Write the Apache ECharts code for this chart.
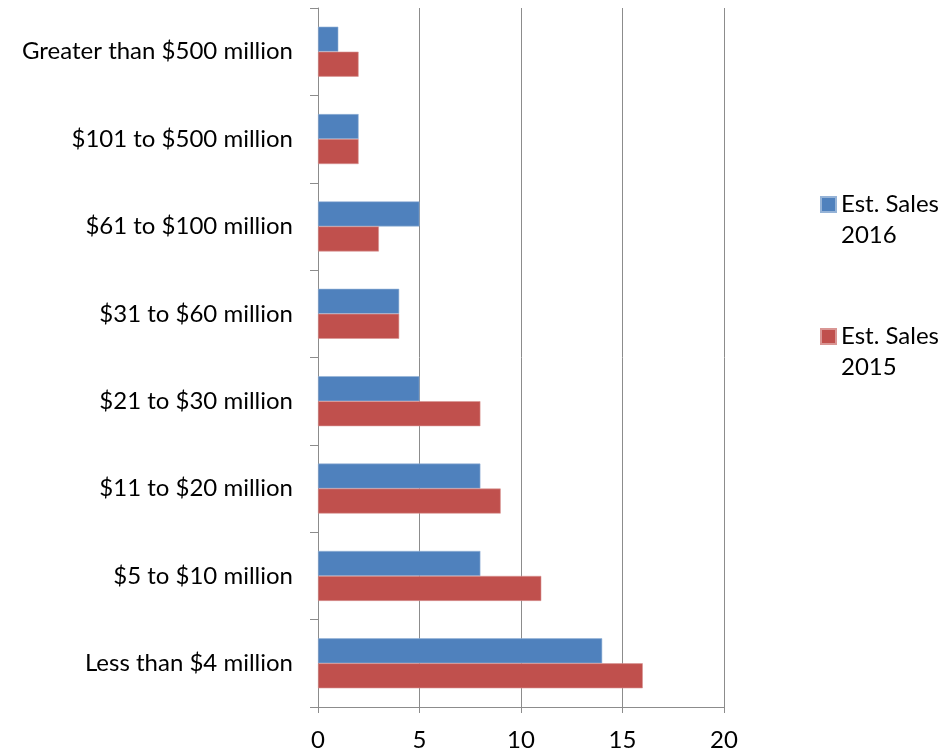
<!DOCTYPE html>
<html>
<head>
<meta charset="utf-8">
<script src="https://cdn.jsdelivr.net/npm/echarts@6/dist/echarts.min.js"></script>
<style>
  html, body { margin: 0; padding: 0; background: #fff; }
  #chart { width: 947px; height: 753px; }
</style>
</head>
<body>
<div id="chart"></div>
<script>
// Revenue bands, listed bottom to top
const categories = [
  'Less than $4 million',
  '$5 to $10 million',
  '$11 to $20 million',
  '$21 to $30 million',
  '$31 to $60 million',
  '$61 to $100 million',
  '$101 to $500 million',
  'Greater than $500 million'
];
const seriesNames = ['Est. Sales 2016', 'Est. Sales 2015'];
const sales2016 = [14, 8, 8, 5, 4, 5, 2, 1];
const sales2015 = [16, 11, 9, 8, 4, 3, 2, 2];
const xTicks = { min: 0, max: 20, interval: 5 };

const FONT = 'Lato, "Open Sans", sans-serif';
const FONT_SIZE = 24;
const BLUE = '#4F81BD';
const RED = '#C0504D';
const GRID_GRAY = '#8c8c8c';

const chart = echarts.init(document.getElementById('chart'), null, { renderer: 'canvas' });

function legendFor(name, top) {
  return {
    data: [name],
    left: 820,
    top: top,
    padding: 0,
    orient: 'vertical',
    icon: 'rect',
    itemWidth: 15,
    itemHeight: 15,
    selectedMode: false,
    // first line left blank so the label's first line sits level with the swatch
    formatter: function (n) { return '\n' + n.replace(' 2', '\n2'); },
    textStyle: { fontFamily: FONT, fontSize: FONT_SIZE, lineHeight: 31, color: '#000' }
  };
}

chart.setOption({
  animation: false,
  backgroundColor: '#fff',
  textStyle: { fontFamily: FONT },
  legend: [legendFor(seriesNames[0], 158), legendFor(seriesNames[1], 290)],
  grid: { left: 318, right: 223, top: 8, bottom: 46, containLabel: false },
  xAxis: {
    type: 'value',
    min: xTicks.min,
    max: xTicks.max,
    interval: xTicks.interval,
    axisLine: { show: true, lineStyle: { color: GRID_GRAY, width: 1 } },
    axisTick: { show: true, length: 6, lineStyle: { color: GRID_GRAY } },
    splitLine: { show: true, lineStyle: { color: GRID_GRAY, width: 1 } },
    axisLabel: { fontFamily: FONT, fontSize: FONT_SIZE, color: '#000', margin: 21 }
  },
  yAxis: {
    type: 'category',
    data: categories,
    axisLine: { show: true, lineStyle: { color: GRID_GRAY, width: 1 } },
    axisTick: { show: true, length: 8, lineStyle: { color: GRID_GRAY } },
    axisLabel: { fontFamily: FONT, fontSize: FONT_SIZE, color: '#000', margin: 25 }
  },
  series: [
    {
      name: seriesNames[0],
      type: 'bar',
      data: sales2016,
      barWidth: 25,
      barGap: '0%',
      itemStyle: { color: BLUE, borderColor: '#95b3d7', borderWidth: 0.6 }
    },
    {
      name: seriesNames[1],
      type: 'bar',
      data: sales2015,
      barWidth: 25,
      barGap: '0%',
      itemStyle: { color: RED, borderColor: '#d99694', borderWidth: 0.6 }
    }
  ]
});
</script>
</body>
</html>
